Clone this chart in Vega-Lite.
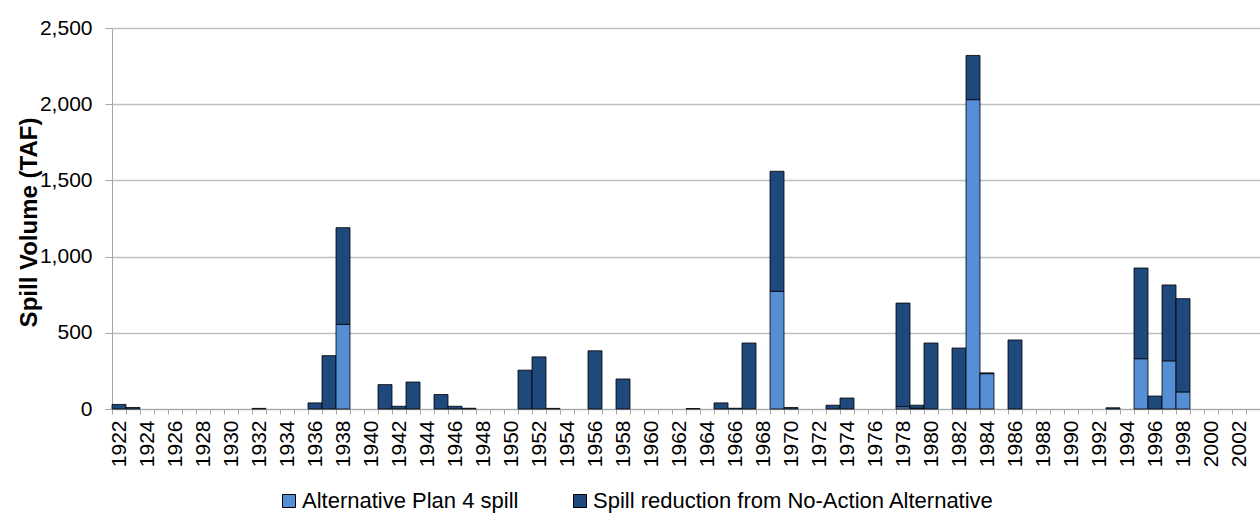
{
  "$schema": "https://vega.github.io/schema/vega-lite/v6.json",
  "width": 1148,
  "height": 381,
  "autosize": {"type": "none"},
  "padding": {"top": 28, "left": 112, "right": 0, "bottom": 115},
  "background": "#ffffff",
  "config": {
    "font": "Liberation Sans",
    "view": {"stroke": null}
  },
  "data": {
    "values": [
      {"year": 1922, "series": "Spill reduction from No-Action Alternative", "value": 30},
      {"year": 1923, "series": "Spill reduction from No-Action Alternative", "value": 10},
      {"year": 1932, "series": "Spill reduction from No-Action Alternative", "value": 4},
      {"year": 1936, "series": "Spill reduction from No-Action Alternative", "value": 40},
      {"year": 1937, "series": "Spill reduction from No-Action Alternative", "value": 350},
      {"year": 1938, "series": "Alternative Plan 4 spill", "value": 555},
      {"year": 1938, "series": "Spill reduction from No-Action Alternative", "value": 635},
      {"year": 1941, "series": "Spill reduction from No-Action Alternative", "value": 160},
      {"year": 1942, "series": "Spill reduction from No-Action Alternative", "value": 18},
      {"year": 1943, "series": "Spill reduction from No-Action Alternative", "value": 177},
      {"year": 1945, "series": "Spill reduction from No-Action Alternative", "value": 95},
      {"year": 1946, "series": "Spill reduction from No-Action Alternative", "value": 18},
      {"year": 1947, "series": "Spill reduction from No-Action Alternative", "value": 5},
      {"year": 1951, "series": "Spill reduction from No-Action Alternative", "value": 255},
      {"year": 1952, "series": "Spill reduction from No-Action Alternative", "value": 342},
      {"year": 1953, "series": "Spill reduction from No-Action Alternative", "value": 4},
      {"year": 1956, "series": "Spill reduction from No-Action Alternative", "value": 382},
      {"year": 1958, "series": "Spill reduction from No-Action Alternative", "value": 197},
      {"year": 1963, "series": "Spill reduction from No-Action Alternative", "value": 3},
      {"year": 1965, "series": "Spill reduction from No-Action Alternative", "value": 40},
      {"year": 1966, "series": "Spill reduction from No-Action Alternative", "value": 5},
      {"year": 1967, "series": "Spill reduction from No-Action Alternative", "value": 433},
      {"year": 1969, "series": "Alternative Plan 4 spill", "value": 772},
      {"year": 1969, "series": "Spill reduction from No-Action Alternative", "value": 788},
      {"year": 1970, "series": "Spill reduction from No-Action Alternative", "value": 10},
      {"year": 1973, "series": "Spill reduction from No-Action Alternative", "value": 25},
      {"year": 1974, "series": "Spill reduction from No-Action Alternative", "value": 72},
      {"year": 1978, "series": "Alternative Plan 4 spill", "value": 15},
      {"year": 1978, "series": "Spill reduction from No-Action Alternative", "value": 680},
      {"year": 1979, "series": "Alternative Plan 4 spill", "value": 5},
      {"year": 1979, "series": "Spill reduction from No-Action Alternative", "value": 20},
      {"year": 1980, "series": "Spill reduction from No-Action Alternative", "value": 433},
      {"year": 1982, "series": "Spill reduction from No-Action Alternative", "value": 400},
      {"year": 1983, "series": "Alternative Plan 4 spill", "value": 2030},
      {"year": 1983, "series": "Spill reduction from No-Action Alternative", "value": 290},
      {"year": 1984, "series": "Alternative Plan 4 spill", "value": 232},
      {"year": 1984, "series": "Spill reduction from No-Action Alternative", "value": 5},
      {"year": 1986, "series": "Spill reduction from No-Action Alternative", "value": 453},
      {"year": 1993, "series": "Spill reduction from No-Action Alternative", "value": 8},
      {"year": 1995, "series": "Alternative Plan 4 spill", "value": 330},
      {"year": 1995, "series": "Spill reduction from No-Action Alternative", "value": 595},
      {"year": 1996, "series": "Spill reduction from No-Action Alternative", "value": 85},
      {"year": 1997, "series": "Alternative Plan 4 spill", "value": 316},
      {"year": 1997, "series": "Spill reduction from No-Action Alternative", "value": 498},
      {"year": 1998, "series": "Alternative Plan 4 spill", "value": 112},
      {"year": 1998, "series": "Spill reduction from No-Action Alternative", "value": 612}
    ]
  },
  "mark": {"type": "bar", "stroke": "#000000", "strokeWidth": 0.8},
  "encoding": {
    "x": {
      "field": "year",
      "type": "ordinal",
      "scale": {
        "domain": [1922,1923,1924,1925,1926,1927,1928,1929,1930,1931,1932,1933,1934,1935,1936,1937,1938,1939,1940,1941,1942,1943,1944,1945,1946,1947,1948,1949,1950,1951,1952,1953,1954,1955,1956,1957,1958,1959,1960,1961,1962,1963,1964,1965,1966,1967,1968,1969,1970,1971,1972,1973,1974,1975,1976,1977,1978,1979,1980,1981,1982,1983,1984,1985,1986,1987,1988,1989,1990,1991,1992,1993,1994,1995,1996,1997,1998,1999,2000,2001,2002,2003],
        "paddingInner": 0,
        "paddingOuter": 0
      },
      "axis": {
        "title": null,
        "labelExpr": "datum.value % 2 == 0 ? datum.label : ''",
        "labelAngle": 270,
        "labelAlign": "right",
        "labelBaseline": "middle",
        "labelFontSize": 21,
        "labelColor": "#000000",
        "labelPadding": 6,
        "tickBand": "extent",
        "tickSize": 5,
        "tickColor": "#a6a6a6",
        "domainColor": "#a6a6a6",
        "labelOverlap": false,
        "grid": false
      }
    },
    "y": {
      "field": "value",
      "type": "quantitative",
      "aggregate": "sum",
      "stack": "zero",
      "scale": {"domain": [0, 2500], "nice": false},
      "axis": {
        "title": "Spill Volume (TAF)",
        "titleFontSize": 24,
        "titleFontWeight": "bold",
        "titleColor": "#000000",
        "titleAngle": 270,
        "titleAlign": "center",
        "titleBaseline": "middle",
        "titleX": -83,
        "titleY": 194,
        "values": [0, 500, 1000, 1500, 2000, 2500],
        "format": ",.0f",
        "labelFontSize": 21,
        "labelColor": "#000000",
        "labelPadding": 13,
        "tickSize": 7,
        "tickColor": "#a6a6a6",
        "domainColor": "#a6a6a6",
        "grid": true,
        "gridColor": "#bfbfbf",
        "gridWidth": 1.3
      }
    },
    "color": {
      "field": "series",
      "type": "nominal",
      "scale": {
        "domain": ["Alternative Plan 4 spill", "Spill reduction from No-Action Alternative"],
        "range": ["#558ED5", "#1F497D"]
      },
      "legend": {
        "title": null,
        "orient": "none",
        "direction": "horizontal",
        "legendX": 166,
        "legendY": 462,
        "symbolType": "square",
        "symbolSize": 169,
        "symbolStrokeColor": "#000000",
        "symbolStrokeWidth": 1,
        "symbolOpacity": 1,
        "labelFontSize": 22,
        "labelColor": "#000000",
        "labelOffset": 2,
        "labelLimit": 600,
        "columnPadding": 50
      }
    },
    "order": {"field": "series", "sort": "ascending"}
  }
}
